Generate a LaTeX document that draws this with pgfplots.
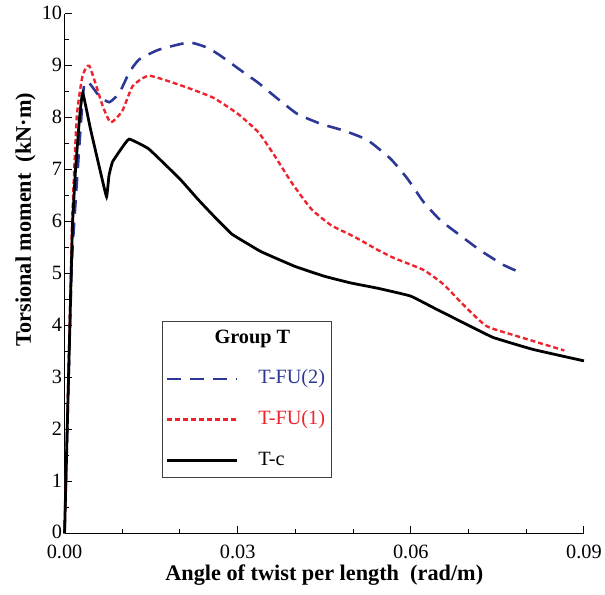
\documentclass[border=0pt]{standalone}
\usepackage{pgfplots}
\pgfplotsset{compat=1.18}
\usepackage{fontspec}
\setmainfont{Liberation Serif}
\definecolor{tblue}{RGB}{45,55,150}
\definecolor{tred}{RGB}{238,35,45}
\begin{document}
\begin{tikzpicture}
\begin{axis}[
  scale only axis, width=523bp, height=523bp,
  xmin=0, xmax=0.09, ymin=0, ymax=10,
  axis x line*=bottom, axis y line*=left,
  axis line style={-, line width=1.1bp, black},
  xtick={0,0.03,0.06,0.09}, minor x tick num=2,
  ytick={0,1,...,10}, minor y tick num=1,
  tick align=inside,
  major tick length=7bp, minor tick length=4bp,
  tick style={line width=1bp, black},
  scaled x ticks=false,
  xticklabel style={yshift=-8bp, /pgf/number format/fixed, /pgf/number format/fixed zerofill, /pgf/number format/precision=2, /pgf/number format/assume math mode=true},
  yticklabel style={xshift=1bp, yshift=1bp, /pgf/number format/assume math mode=true},
  ticklabel style={font=\fontsize{20.5}{20.5}\selectfont},
  xlabel={\textbf{Angle of twist per length\enspace(rad/m)}},
  ylabel={\textbf{Torsional moment\enspace(kN·m)}},
  label style={font=\fontsize{22.5}{22.5}\selectfont},
  xlabel style={at={(axis description cs:0.5,-0.08)}, anchor=center},
  ylabel style={at={(axis description cs:-0.075,0.604)}, anchor=center},
  clip=false,
  legend cell align=left,
  legend style={at={(axis description cs:0.187,0.409)}, anchor=north west,
    draw=black!75, line width=0.9bp, font=\fontsize{20.5}{20.5}\selectfont,
    row sep=17bp, inner xsep=4bp, inner ysep=5bp,
    nodes={inner sep=2bp, text height=15bp, text depth=5bp},
    /tikz/every odd column/.append style={column sep=18bp}},
  legend image code/.code={\draw[#1] (0bp,0bp) -- (70bp,0bp);},
]
\path (axis description cs:-0.1243,-0.1185) -- (axis description cs:1.0325,1.0268);
\addlegendimage{empty legend}
\addlegendentry{\hspace*{-44bp}\textbf{Group T}}

\addplot[tblue, line width=2.6bp, dash pattern=on 14bp off 9bp, smooth, tension=0.3] coordinates {
(0,0) (0.0012,5.0) (0.0018,6.2) (0.0024,7.2) (0.0029,8.0) (0.0034,8.65) (0.0042,8.68)
(0.0060,8.42) (0.00775,8.30) (0.0095,8.48) (0.0112,8.87) (0.0129,9.12) (0.0163,9.31)
(0.0215,9.45) (0.0245,9.36) (0.0267,9.22) (0.0307,8.90) (0.0336,8.67) (0.0370,8.36)
(0.0404,8.07) (0.0445,7.88) (0.0485,7.75) (0.0525,7.57) (0.0565,7.21) (0.0594,6.83)
(0.0622,6.38) (0.0651,6.03) (0.0685,5.74) (0.0720,5.45) (0.0760,5.17) (0.0790,5.02)
};
\addlegendentry{\textcolor{tblue}{T-FU(2)}}

\addplot[tred, line width=2.4bp, dash pattern=on 5bp off 3bp, smooth, tension=0.3] coordinates {
(0,0) (0.0011,5.0) (0.0013,6.0) (0.0021,8.0) (0.0031,8.8) (0.0043,9.0) (0.0066,8.23)
(0.0080,7.91) (0.0100,8.13) (0.0118,8.61) (0.0146,8.81) (0.0200,8.63) (0.0257,8.39)
(0.0301,8.07) (0.0336,7.72) (0.0364,7.27) (0.0393,6.76) (0.0427,6.25) (0.0462,5.93)
(0.0502,5.71) (0.0542,5.46) (0.0571,5.30) (0.0622,5.07) (0.0657,4.79) (0.0691,4.40)
(0.0731,3.99) (0.0783,3.80) (0.0866,3.52)
};
\addlegendentry{\textcolor{tred}{T-FU(1)}}

\addplot[black, line width=2.8bp, smooth, tension=0.2] coordinates {
(0,0) (0.00115,5.0) (0.0014,6.0) (0.0019,7.0) (0.0026,8.0) (0.00315,8.48) (0.0045,7.78)
(0.0063,6.92) (0.00728,6.48) (0.0077,6.89) (0.0083,7.15) (0.0098,7.40) (0.0112,7.59)
(0.0146,7.40) (0.0200,6.82) (0.0232,6.42) (0.0261,6.08) (0.0290,5.76) (0.0318,5.57)
(0.0341,5.42) (0.0399,5.14) (0.0450,4.95) (0.0496,4.82) (0.0542,4.72) (0.0599,4.57)
(0.0640,4.34) (0.0697,4.02) (0.0743,3.77) (0.0812,3.54) (0.0900,3.32)
};
\addlegendentry{T-c}
\end{axis}
\end{tikzpicture}
\end{document}
